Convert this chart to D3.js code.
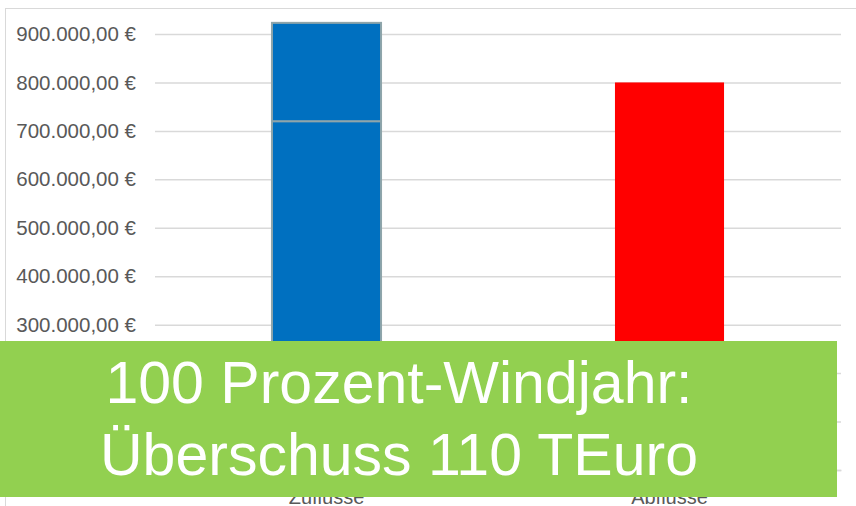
<!DOCTYPE html>
<html>
<head>
<meta charset="utf-8">
<script src="https://cdn.jsdelivr.net/npm/d3@7"></script>
<style>
  body { margin: 0; background: #fff; }
  svg { display: block; }
</style>
</head>
<body>
<div id="chart"></div>
<script>
// data
const categories = ["Zuflüsse", "Abflüsse"];
const baseValues = [720000, 800000];   // lower segment
const topValues = [203000, 0];         // upper segment (only Zuflüsse)
const tickValues = [0, 100000, 200000, 300000, 400000, 500000, 600000, 700000, 800000, 900000];
const barColors = ["#0070C0", "#FF0000"];
const bannerLines = ["100 Prozent-Windjahr:", "Überschuss 110 TEuro"];

const width = 856, height = 506;
const margin = { left: 155, right: 15, top: 34, bottom: 36 };

const de = d3.formatLocale({ decimal: ",", thousands: ".", grouping: [3], currency: ["", " €"] });
const fmt = de.format("$,.2f");

const rows = categories.map((c, i) => ({ cat: c, base: baseValues[i], top: topValues[i], color: barColors[i] }));

const svg = d3.select("#chart").append("svg")
  .attr("width", width)
  .attr("height", height)
  .style("font-family", "Lato, 'Open Sans', sans-serif");

// outer chart frame
svg.append("rect")
  .attr("x", 5.5).attr("y", 8.5)
  .attr("width", 900).attr("height", 600)
  .attr("fill", "none")
  .attr("stroke", "#d9d9d9");

const x = d3.scaleBand()
  .domain(categories)
  .range([margin.left, width - margin.right])
  .paddingInner(0.682)
  .paddingOuter(0.341);

const y = d3.scaleLinear()
  .domain([0, 900000])
  .range([470, 34]);

// gridlines + y labels
const yAxis = svg.append("g")
  .attr("transform", `translate(${margin.left},0)`)
  .call(d3.axisLeft(y)
    .tickValues(tickValues)
    .tickFormat(fmt)
    .tickSize(-(width - margin.right - margin.left))
    .tickPadding(19));
yAxis.select(".domain").remove();
yAxis.selectAll(".tick line")
  .attr("stroke", "#d9d9d9")
  .attr("stroke-width", 1.5);
yAxis.selectAll(".tick text")
  .attr("fill", "#595959")
  .style("font-size", "20.5px");

// stacked bars
const stack = d3.stack().keys(["base", "top"]);
const series = stack(rows);

svg.append("g")
  .selectAll("g")
  .data(series)
  .enter().append("g")
  .selectAll("rect")
  .data(d => d.filter(s => s[1] > s[0]))
  .enter().append("rect")
    .attr("x", d => x(d.data.cat))
    .attr("y", d => y(d[1]))
    .attr("width", x.bandwidth())
    .attr("height", d => y(d[0]) - y(d[1]))
    .attr("fill", d => d.data.color)
    .attr("stroke", d => d.data.cat === "Zuflüsse" ? "#8FA5AA" : "none")
    .attr("stroke-width", 2);

// category labels
const xAxis = svg.append("g")
  .attr("transform", `translate(0,${y(0)})`)
  .call(d3.axisBottom(x).tickSize(0).tickPadding(20));
xAxis.select(".domain").attr("stroke", "#d9d9d9").attr("stroke-width", 1.5);
xAxis.selectAll(".tick text")
  .attr("fill", "#595959")
  .style("font-size", "20px");

// green banner
svg.append("rect")
  .attr("x", 0).attr("y", 341)
  .attr("width", 837).attr("height", 156)
  .attr("fill", "#92D050");

svg.append("g")
  .attr("text-anchor", "middle")
  .attr("fill", "#fff")
  .style("font-family", "'Liberation Sans', Arial, sans-serif")
  .style("font-size", "59px")
  .selectAll("text")
  .data(bannerLines)
  .enter().append("text")
    .attr("x", 399)
    .attr("y", (d, i) => 403 + i * 72)
    .text(d => d);
</script>
</body>
</html>
